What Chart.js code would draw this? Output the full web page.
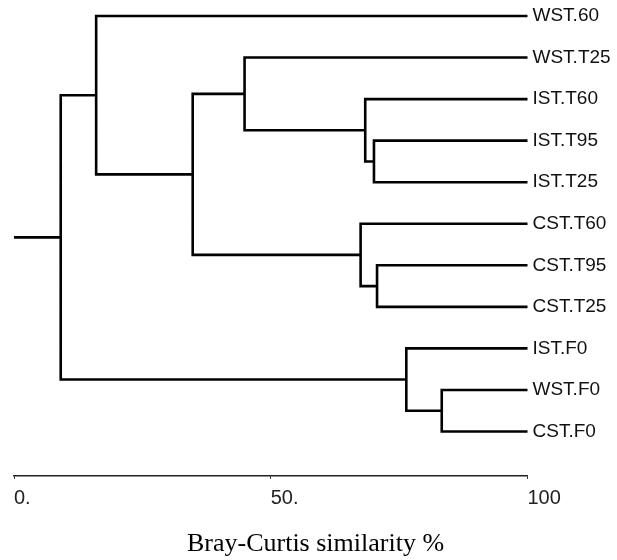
<!DOCTYPE html>
<html>
<head>
<meta charset="utf-8">
<script src="https://cdn.jsdelivr.net/npm/chart.js@4"></script>
<style>
  html, body { margin: 0; padding: 0; background: #fff; }
  #wrap { width: 617px; height: 560px; }
</style>
</head>
<body>
<div id="wrap"><canvas id="dendro"></canvas></div>
<script>
// leaves, top to bottom
const leaves = ['WST.60', 'WST.T25', 'IST.T60', 'IST.T95', 'IST.T25', 'CST.T60', 'CST.T95', 'CST.T25', 'IST.F0', 'WST.F0', 'CST.F0'];
// merges: ids 0..10 are leaves, merge k gets id leaves.length + k
const mergeLeft = [3, 2, 1, 6, 5, 13, 0, 9, 8, 17];
const mergeRight = [4, 11, 12, 7, 14, 15, 16, 10, 18, 19];
const mergeSimilarity = [70.1, 68.4, 44.9, 70.7, 67.5, 34.8, 16.0, 83.3, 76.4, 9.1];
const xTickValues = [0, 50, 100];
const xTickLabels = ['0.', '50.', '100'];

// node positions: leaves sit at 100 %, a merge sits between its two children
const nodeX = leaves.map(() => 100);
const nodeY = leaves.map((_, i) => i);
mergeLeft.forEach((a, k) => {
  const b = mergeRight[k];
  nodeX.push(mergeSimilarity[k]);
  nodeY.push((nodeY[a] + nodeY[b]) / 2);
});

const gap = { x: NaN, y: NaN };
const links = [];
mergeLeft.forEach((a, k) => {
  const b = mergeRight[k];
  const h = mergeSimilarity[k];
  links.push({ x: nodeX[a], y: nodeY[a] }, { x: h, y: nodeY[a] },
             { x: h, y: nodeY[b] }, { x: nodeX[b], y: nodeY[b] }, gap);
});
// stem of the root
const root = nodeX.length - 1;
links.push({ x: 0, y: nodeY[root] }, { x: nodeX[root], y: nodeY[root] });

const sans = "'Liberation Sans', Arial, sans-serif";

new Chart(document.getElementById('dendro'), {
  type: 'scatter',
  data: {
    datasets: [{
      data: links,
      showLine: true,
      spanGaps: false,
      borderColor: '#000',
      borderWidth: 2.6,
      borderJoinStyle: 'miter',
      borderCapStyle: 'butt',
      pointRadius: 0,
      clip: false
    }]
  },
  options: {
    responsive: true,
    maintainAspectRatio: false,
    animation: false,
    layout: { padding: { left: 14, right: 0, top: 0, bottom: 0 } },
    plugins: {
      legend: { display: false },
      tooltip: { enabled: false },
      title: {
        display: true,
        position: 'bottom',
        text: 'Bray-Curtis similarity %',
        color: '#000',
        font: { family: "'Liberation Serif', 'Times New Roman', serif", size: 26, weight: 'normal' },
        padding: { top: 0, bottom: 0 }
      }
    },
    scales: {
      x: {
        type: 'linear',
        min: 0,
        max: 100,
        afterBuildTicks: s => { s.ticks = xTickValues.map(v => ({ value: v })); },
        afterFit: s => { s.height = 53; s.paddingLeft = 0; s.paddingRight = 0; },
        grid: { display: true, drawOnChartArea: false, drawTicks: true, tickLength: 3, color: '#222' },
        border: { display: true, color: '#222', width: 1.5 },
        ticks: {
          align: 'start',
          padding: 8,
          color: '#222',
          font: { family: sans, size: 20 },
          callback: v => xTickLabels[xTickValues.indexOf(v)]
        }
      },
      y: {
        type: 'linear',
        position: 'right',
        reverse: true,
        min: -0.385,
        max: 11.066,
        afterBuildTicks: s => { s.ticks = leaves.map((_, i) => ({ value: i })); },
        afterFit: s => { s.width = 89.5; s.paddingTop = 0; s.paddingBottom = 0; },
        grid: { display: false, drawTicks: false },
        border: { display: false },
        ticks: {
          padding: 5,
          color: '#111',
          font: { family: sans, size: 19 },
          callback: v => leaves[v]
        }
      }
    }
  }
});
</script>
</body>
</html>
